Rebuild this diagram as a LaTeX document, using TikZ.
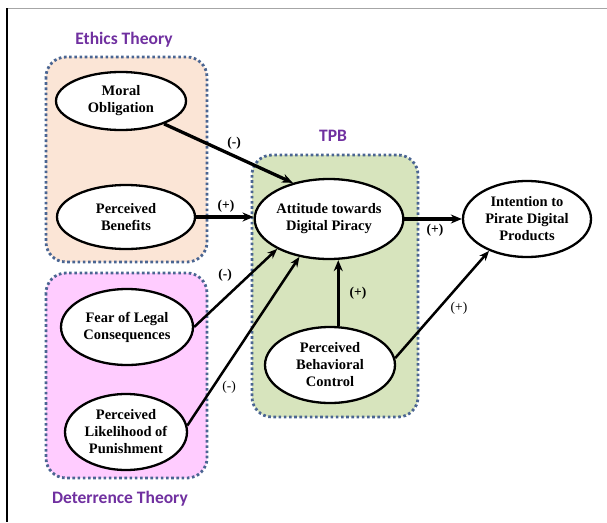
\documentclass[tikz,border=0pt]{standalone}
\usepackage{fontspec}
\setmainfont{Liberation Serif}
\newfontfamily\nodefont{Liberation Serif}
\newfontfamily\titlefont{Carlito}
\usetikzlibrary{shapes.geometric,arrows.meta}
\definecolor{peach}{HTML}{FBE5D6}
\definecolor{pinkbg}{HTML}{FFCCFF}
\definecolor{greenbg}{HTML}{D7E4BD}
\definecolor{dotblue}{HTML}{4A6592}
\definecolor{titlepurple}{HTML}{7030A0}
\tikzset{
  group/.style={draw=dotblue, line width=2.8pt, dash pattern=on 2.6pt off 2.6pt, rounded corners=20pt},
  construct/.style={ellipse, draw=black, line width=2.3pt, fill=white, inner sep=0pt, align=center,
    font=\nodefont\fontsize{14.5}{17}\selectfont\bfseries},
  grouptitle/.style={font=\titlefont\fontsize{17.5}{20}\selectfont\bfseries, text=titlepurple},
  path/.style={line width=3.3pt, -{Stealth[length=11pt,width=9pt]}},
  thinpath/.style={line width=2.5pt, -{Stealth[length=10pt,width=8pt]}},
  sign/.style={font=\nodefont\fontsize{13.5}{15}\selectfont\bfseries},
  signlight/.style={font=\nodefont\fontsize{13.5}{15}\selectfont}
}
\begin{document}
\begin{tikzpicture}[x=1pt,y=-1pt]
\useasboundingbox (0,0) rectangle (607,522);
% frame
\draw[gray!70, line width=1pt] (7,8) -- (607,8);
\draw[black, line width=1.2pt] (7,8) -- (7,522);
% groups
\draw[group, fill=peach] (46,57) rectangle (207,262);
\draw[group, fill=pinkbg] (46,273) rectangle (207,478);
\draw[group, fill=greenbg] (252,155) rectangle (418,417);
% titles
\node[grouptitle] (tEth) at (124,40) {Ethics Theory};
\node[grouptitle] (tTpb) at (333,136) {TPB};
\node[grouptitle] (tDet) at (120,499) {Deterrence Theory};
% constructs
\node[construct, minimum width=130pt, minimum height=58pt] (mo) at (121,101) {Moral\\Obligation};
\node[construct, minimum width=138pt, minimum height=64pt] (pb) at (126,217) {Perceived\\Benefits};
\node[construct, minimum width=132pt, minimum height=76pt] (fl) at (127,327) {Fear of Legal\\Consequences};
\node[construct, minimum width=122pt, minimum height=76pt] (pl) at (126,432) {Perceived\\Likelihood of\\Punishment};
\node[construct, minimum width=128pt, minimum height=80pt] (att) at (329,219) {Attitude towards\\Digital Piracy};
\node[construct, minimum width=130pt, minimum height=76pt] (pbc) at (330,365) {Perceived\\Behavioral\\Control};
\node[construct, minimum width=128pt, minimum height=76pt] (int) at (527,219) {Intention to\\Pirate Digital\\Products};
% connectors
\draw[path] (mo.-28) -- (att.135);
\draw[path] (pb.east) -- (pb.east -| att.west);
\draw[path] (att.east) -- (int.west);
\draw[thinpath] (fl.east) -- (att.-150);
\draw[thinpath] (pl.6) -- (att.-128);
\draw[path] (pbc.78) -- (pbc.78 |- att.south);
\draw[thinpath] (pbc.6) -- (int.-140);
% signs
\node[sign] (s1) at (234,143) {(-)};
\node[sign] (s2) at (226,206) {(+)};
\node[sign] (s3) at (435,230) {(+)};
\node[sign] (s4) at (225,275) {(-)};
\node[signlight] (s5) at (229,387) {(-)};
\node[sign] (s6) at (358,293) {(+)};
\node[signlight] (s7) at (459,308) {(+)};
\end{tikzpicture}
\end{document}
